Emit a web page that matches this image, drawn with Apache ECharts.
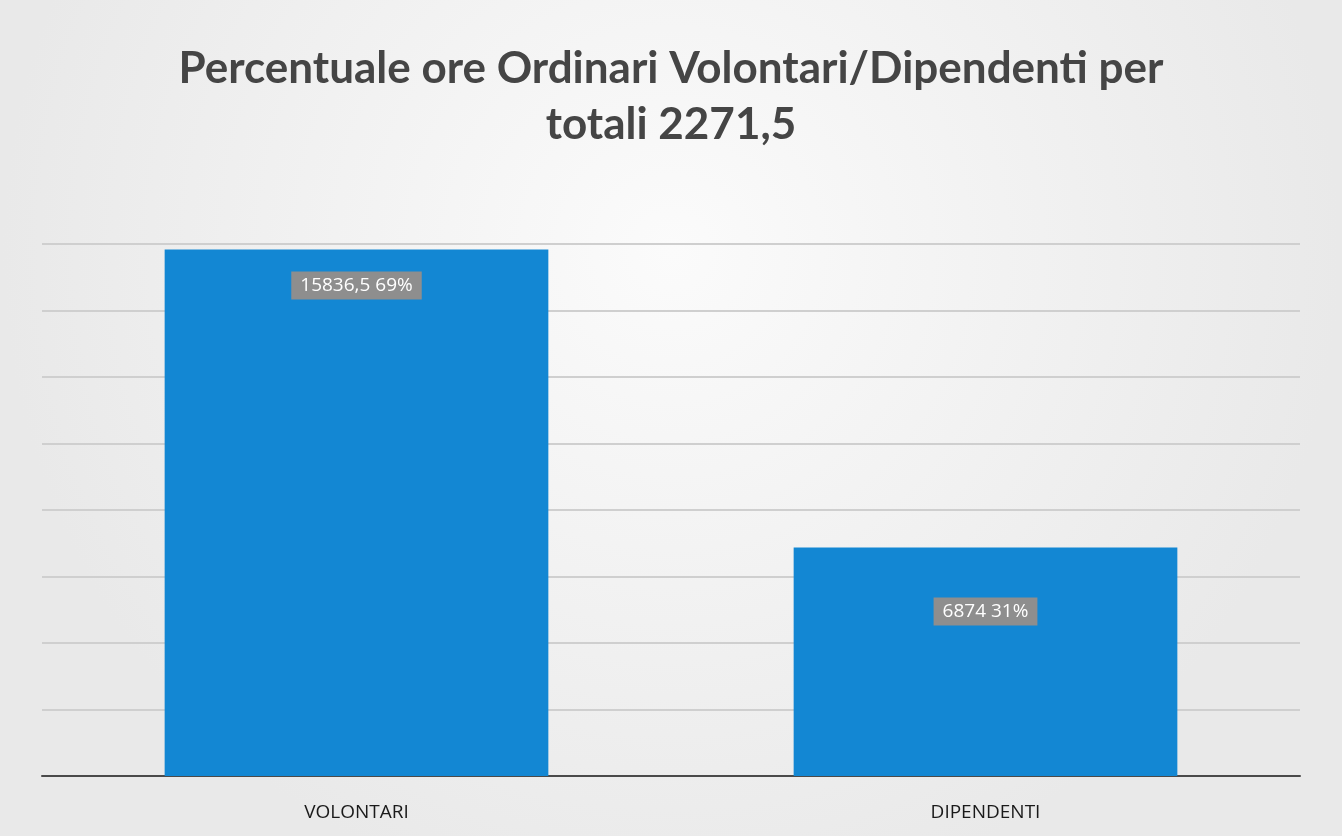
<!DOCTYPE html>
<html>
<head>
<meta charset="utf-8">
<title>Percentuale ore Ordinari</title>
<script src="https://cdn.jsdelivr.net/npm/echarts@6/dist/echarts.min.js"></script>
<style>
  html, body { margin: 0; padding: 0; }
  #chart { width: 1342px; height: 836px; }
</style>
</head>
<body>
<div id="chart"></div>
<script>
// dati del grafico
var categorie = ["VOLONTARI", "DIPENDENTI"];
var ore = [15836.5, 6874];
var percentuali = ["69%", "31%"];
var titolo = "Percentuale ore Ordinari Volontari/Dipendenti per\ntotali 2271,5";

(function () {
  var myChart = echarts.init(document.getElementById("chart"));

  // etichette: la prima in alto, la seconda un po' più in basso
  var labelDist = [22, 50];
  var dati = ore.map(function (v, i) {
    return {
      value: v,
      label: { distance: labelDist[i] }
    };
  });

  var option = {
    backgroundColor: new echarts.graphic.RadialGradient(0.5, 0.3, 0.8, [
      { offset: 0, color: "#fbfbfb" },
      { offset: 1, color: "#e9e9e9" }
    ]),
    title: {
      text: titolo,
      left: "center",
      top: 36,
      textStyle: {
        color: "#454545",
        fontFamily: "Lato",
        fontWeight: "bold",
        fontSize: 44,
        lineHeight: 56
      }
    },
    grid: {
      left: 42,
      right: 42,
      top: 244,
      bottom: 60
    },
    xAxis: {
      type: "category",
      data: categorie,
      axisTick: { show: false },
      axisLine: {
        lineStyle: { color: "#4a4a4a", width: 2 }
      },
      axisLabel: {
        color: "#1a1a1a",
        fontFamily: "Open Sans",
        fontSize: 19,
        margin: 27
      }
    },
    yAxis: {
      type: "value",
      min: 0,
      max: 16000,
      interval: 2000,
      axisLabel: { show: false },
      axisLine: { show: false },
      axisTick: { show: false },
      splitLine: {
        lineStyle: { color: "#cfcfcf", width: 2 }
      }
    },
    series: [
      {
        name: "Ore",
        type: "bar",
        barWidth: "61%",
        data: dati,
        itemStyle: { color: "#1387d3" },
        label: {
          show: true,
          position: "insideTop",
          color: "#ffffff",
          fontFamily: "Open Sans",
          fontSize: 19,
          backgroundColor: "#8e8e8e",
          padding: [5, 9, 4, 9],
          formatter: function (p) {
            return String(p.value).replace(".", ",") + " " + percentuali[p.dataIndex];
          }
        }
      }
    ]
  };

  myChart.setOption(option);
  window.addEventListener("resize", function () {
    myChart.resize();
  });
})();
</script>
</body>
</html>
